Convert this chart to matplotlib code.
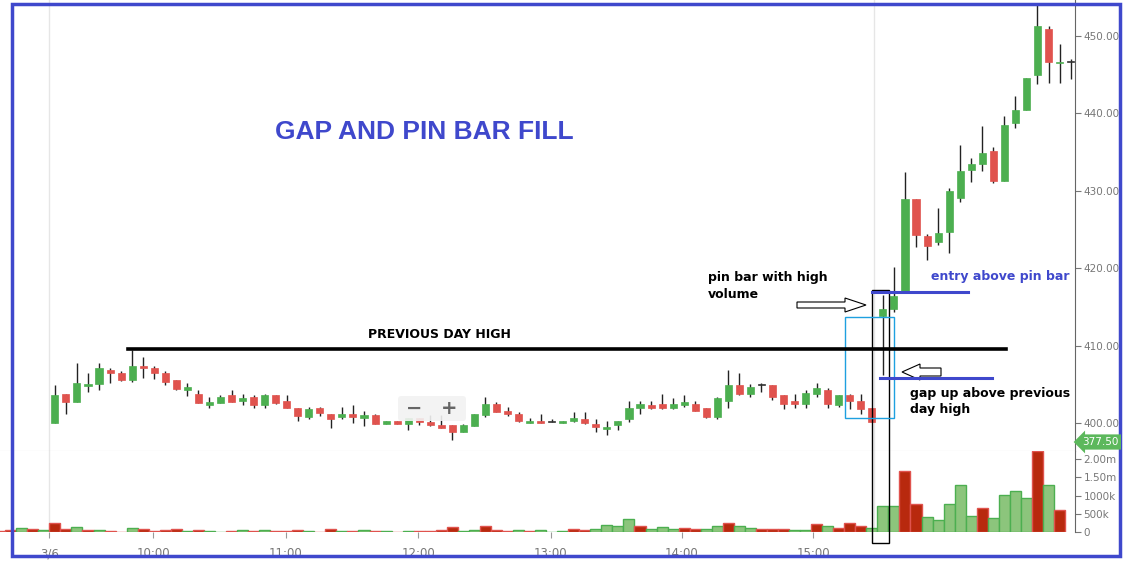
import numpy as np
import matplotlib
matplotlib.use("Agg")
import matplotlib.pyplot as plt
from matplotlib.patches import Rectangle, Polygon, FancyBboxPatch
from matplotlib.lines import Line2D
from matplotlib.transforms import Affine2D

opens = [400.0,403.7,402.7,404.8,405.0,406.9,406.5,405.5,407.4,407.05,406.5,405.5,404.25,403.7,402.3,402.6,403.6,402.8,403.4,402.3,
         403.6,402.8,401.9,400.75,402.0,401.2,400.75,401.1,400.6,401.0,399.85,400.3,399.85,400.7,400.1,399.7,399.8,398.8,399.6,401.0,
         402.4,401.5,401.2,399.98,400.3,400.1,399.98,400.2,400.45,399.9,399.2,399.7,400.5,402.0,402.3,402.4,402.0,402.3,402.5,401.9,
         400.8,402.9,404.85,403.8,404.95,404.85,403.6,402.8,402.4,403.7,404.3,402.3,403.6,402.8,401.9,
         413.8,414.75,417.0,428.9,424.1,423.4,424.7,429.1,432.65,433.4,435.1,431.3,438.7,440.4,444.9,450.9,446.5,446.7]
highs = [404.9,403.7,407.8,406.4,407.7,407.05,406.75,409.4,408.5,407.4,406.66,405.5,405.2,404.2,403.3,403.6,404.3,403.7,403.6,403.8,
         403.6,403.6,401.9,402.1,402.1,401.2,402.1,402.3,401.6,401.1,400.3,400.3,400.6,400.7,401.0,401.0,399.8,399.9,401.1,403.4,
         402.65,402.1,401.4,400.7,401.1,400.45,400.3,401.4,401.4,400.45,400.3,400.3,402.8,402.8,402.8,403.7,403.2,403.6,402.8,401.9,
         403.3,406.8,406.5,405.0,405.15,404.85,403.6,403.7,404.2,405.2,404.5,403.6,403.7,403.7,402.0,
         416.5,420.15,432.4,428.9,424.45,427.8,430.4,435.9,434.3,438.4,435.6,439.6,442.2,444.6,454.1,451.3,449.0,447.0]
lows = [400.0,401.1,402.7,404.0,404.3,405.15,405.4,405.3,405.8,405.7,404.9,404.3,403.5,402.6,401.9,402.6,402.7,402.3,401.9,401.9,
        402.4,401.9,400.2,400.5,400.9,399.3,400.5,400.0,399.6,399.85,399.85,399.85,399.1,399.7,399.6,399.3,397.8,398.8,399.6,400.8,
        401.4,400.85,400.1,399.98,399.98,400.1,399.98,400.1,399.85,398.8,398.4,399.1,400.1,401.1,401.75,401.75,401.75,402.1,401.5,400.7,
        400.45,401.9,403.6,403.4,404.0,403.0,401.75,402.0,401.9,403.3,402.0,402.1,401.75,401.1,400.1,
        406.2,414.3,417.0,422.7,421.1,423.05,422.0,428.5,431.1,432.5,431.0,431.3,438.1,440.4,443.75,443.95,443.95,444.4]
closes = [403.6,402.7,405.2,405.1,407.05,406.4,405.5,407.4,407.1,406.45,405.3,404.4,404.6,402.6,402.65,403.3,402.7,403.2,402.3,403.6,
          402.6,401.9,400.9,401.75,401.3,400.5,401.1,400.75,401.0,399.85,400.3,399.85,400.6,400.1,399.7,399.3,398.8,399.7,401.1,402.4,
          401.4,401.1,400.2,400.3,399.98,400.15,400.3,400.6,399.98,399.5,399.5,400.3,402.0,402.5,401.9,402.0,402.4,402.65,401.6,400.8,
          403.2,404.85,403.7,404.7,405.0,403.4,402.5,402.4,403.9,404.5,402.4,403.6,402.9,401.75,400.1,
          414.75,416.4,429.0,424.35,422.85,424.6,430.0,432.6,433.4,434.9,431.3,438.5,440.5,444.6,451.3,446.7,446.7,446.6]

# volume (millions), first five bars belong to the previous session (index -5..-1)
volumes = [0.04,0.055,0.11,0.08,0.055,
           0.26,0.08,0.14,0.055,0.055,0.03,0.01,0.11,0.08,0.03,0.055,0.08,0.03,0.055,0.03,0.01,0.03,0.055,0.03,0.055,
           0.03,0.03,0.055,0.03,0.01,0.08,0.03,0.03,0.055,0.03,0.03,0.01,0.03,0.03,0.03,0.055,0.14,0.03,0.055,
           0.16,0.055,0.03,0.055,0.03,0.055,0.01,0.03,0.08,0.055,0.08,0.19,0.16,0.36,0.16,0.08,0.14,0.08,0.11,0.08,
           0.08,0.16,0.25,0.16,0.11,0.08,0.08,0.08,0.055,0.055,0.22,0.16,0.11,0.25,0.16,0.11,
           0.72,0.72,1.68,0.77,0.40,0.33,0.77,1.28,0.43,0.66,0.38,1.01,1.12,0.94,2.21,1.28,0.60,0.38]
vol_up = "RRGRG" + "RRGRGRRGRRRRGRGGRGRGRRRGRRGRGRGRGRRRRGG" + "RRRGRGGGRRGGGGRGGGRRGGRGGRRRGGRGRRR" + "GGGRRGGGGGRGGGGRGR"
vol_up = vol_up[:len(volumes)]

hour_ticks = [-0.5, 8.9, 20.9, 32.9, 44.9, 56.8, 68.7]
hour_labels = ["3/6", "10:00", "11:00", "12:00", "13:00", "14:00", "15:00"]
price_ticks = [400, 410, 420, 430, 440, 450]
vol_ticks = [0, 0.5, 1.0, 1.5, 2.0]
vol_labels = ["0", "500k", "1000k", "1.50m", "2.00m"]

W, H = 1147, 567
GREEN, RED = "#4caf50", "#e0534e"
BLUE = "#3f48cc"
fig = plt.figure(figsize=(W/100, H/100), dpi=100)
fig.patch.set_facecolor("white")
px = Affine2D().scale(1/100, -1/100).translate(0, H/100) + fig.dpi_scale_trans

axr = 1075/W
ax = fig.add_axes([0, 1-451/H, axr, 451/H])
axv = fig.add_axes([0, 1-532/H, axr, 81/H])

n = len(opens)
idx = np.arange(n)
for i in idx:
    o, h, l, c = opens[i], highs[i], lows[i], closes[i]
    col = GREEN if c >= o else RED
    if abs(c - o) < 0.1:
        col = "#333333"
    ax.vlines(i, l, h, color="#222222", lw=1, zorder=2)
    b = max(abs(c - o), 0.12)
    ax.add_patch(Rectangle((i - 0.32, min(o, c)), 0.64, b, facecolor=col, edgecolor=col, lw=0.5, zorder=3))
ax.set_xlim(-4.97, 92.4)
ax.set_ylim(396.38, 454.65)
ax.yaxis.tick_right()
ax.set_yticks(price_ticks)
ax.set_yticklabels([f"{t:.2f}" for t in price_ticks])
ax.tick_params(axis="y", colors="#777777", labelsize=7.5, length=4, pad=2)
ax.tick_params(axis="x", length=0, labelbottom=False)
for s in ["top", "left"]:
    ax.spines[s].set_visible(False)
ax.spines["right"].set_color("#666666")
ax.spines["bottom"].set_color("#cccccc")
ax.axvline(-0.5, color="#e6e6e6", lw=1, zorder=0)
ax.axvline(74.2, color="#e6e6e6", lw=1, zorder=0)

vidx = np.arange(-5, n)
for i, v, u in zip(vidx, volumes, vol_up):
    if u == "G":
        fc, ec = "#8cc57c", "#4caf50"
    else:
        fc, ec = "#b8290e", "#e0534e"
    axv.bar(i, v, width=1.0, color=fc, edgecolor=ec, lw=1)
axv.set_xlim(-4.97, 92.4)
axv.set_ylim(0, 2.22)
axv.yaxis.tick_right()
axv.set_yticks(vol_ticks)
axv.set_yticklabels(vol_labels)
axv.set_xticks(hour_ticks)
axv.set_xticklabels(hour_labels)
axv.tick_params(axis="y", colors="#777777", labelsize=7.5, length=4, pad=2)
axv.tick_params(axis="x", colors="#777777", labelsize=8.5, length=4, pad=7, color="#999999")
for s in ["top", "left", "bottom"]:
    axv.spines[s].set_visible(False)
axv.spines["right"].set_color("#666666")
axv.axvline(-0.5, color="#e6e6e6", lw=1, zorder=0)
axv.axvline(74.2, color="#e6e6e6", lw=1, zorder=0)

def line(x0, x1, y, col, lw):
    fig.add_artist(Line2D([x0, x1], [y, y], transform=px, color=col, lw=lw))

# annotations
line(128, 1006, 349, "black", 2.6)
line(872, 968, 292, BLUE, 2.2)
line(880, 992, 378, BLUE, 2.2)
fig.add_artist(Rectangle((872, 290), 17, 253, transform=px, fill=False, edgecolor="black", lw=1))
fig.add_artist(Rectangle((845, 317), 49, 101, transform=px, fill=False, edgecolor="#1ea0e0", lw=1))
fig.add_artist(Polygon([(797, 302), (845, 302), (845, 298), (866, 305), (845, 312), (845, 308), (797, 308)],
                       closed=True, transform=px, fill=False, edgecolor="black", lw=0.8))
fig.add_artist(Polygon([(941, 368), (920, 368), (920, 364), (902, 372), (920, 380), (920, 376), (941, 376)],
                       closed=True, transform=px, fill=False, edgecolor="black", lw=0.8))
fig.add_artist(FancyBboxPatch((398, 396), 68, 25, boxstyle="round,pad=0,rounding_size=3", transform=px,
                              facecolor="#f2f2f2", edgecolor="none", alpha=0.9))
fig.text(414/W, 1-408/H, "\u2212", color="#666666", fontsize=14, fontweight="bold", ha="center", va="center")
fig.text(449/W, 1-408/H, "+", color="#666666", fontsize=14, fontweight="bold", ha="center", va="center")

fig.text(424/W, 1-132/H, "GAP AND PIN BAR FILL", color=BLUE, fontsize=19, fontweight="bold",
         ha="center", va="center", family="Liberation Sans")
fig.text(439/W, 1-335/H, "PREVIOUS DAY HIGH", color="black", fontsize=9, fontweight="bold", ha="center", va="center")
fig.text(708/W, 1-286/H, "pin bar with high\nvolume", color="black", fontsize=9, fontweight="bold",
         ha="left", va="center", linespacing=1.3)
fig.text(931/W, 1-277/H, "entry above pin bar", color=BLUE, fontsize=9, fontweight="bold", ha="left", va="center")
fig.text(910/W, 1-402/H, "gap up above previous\nday high", color="black", fontsize=9, fontweight="bold",
         ha="left", va="center", linespacing=1.3)
fig.text(1082/W, 1-442/H, "377.50", color="white", fontsize=7.5, ha="left", va="center",
         bbox=dict(boxstyle="larrow,pad=0.25", facecolor="#5cb85c", edgecolor="none"))

fig.add_artist(Rectangle((12, 4), 1108, 552, transform=px, fill=False, edgecolor=BLUE, lw=2.5))

fig.savefig("out.png", dpi=100, facecolor="white")
